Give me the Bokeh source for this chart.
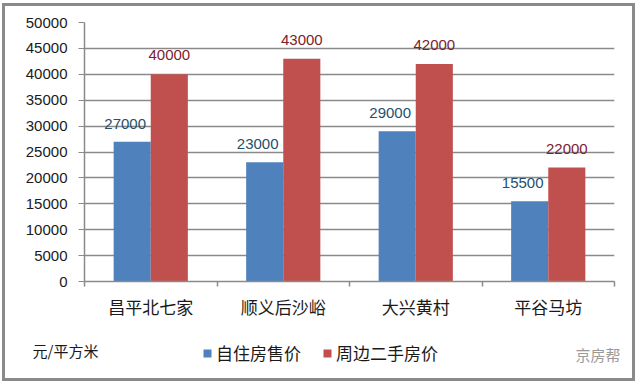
from bokeh.plotting import figure
from bokeh.layouts import column, row
from bokeh.models import (ColumnDataSource, FixedTicker, Legend, LegendItem, Label)
from bokeh.transform import dodge
from bokeh.core.properties import value
from bokeh.embed import file_html
from bokeh.resources import INLINE

# ---- data ----
categories = ["昌平北七家", "顺义后沙峪", "大兴黄村", "平谷马坊"]
self_prices = [27000, 23000, 29000, 15500]
nearby_prices = [40000, 43000, 42000, 22000]
series_names = ["自住房售价", "周边二手房价"]
y_ticks = [0, 5000, 10000, 15000, 20000, 25000, 30000, 35000, 40000, 45000, 50000]
unit_text = "元/平方米"
watermark = "京房帮"

BLUE = "#4F81BD"
RED = "#C0504D"
GRID = "#8a8a8a"
NUM_FONT = "Liberation Sans"
CJK_FONT = "Noto Sans CJK SC"

W = 627          # inner width (inside the grey border)
H_TOP = 324      # chart part
H_BOT = 48       # legend strip

centers = [i + 0.5 for i in range(len(categories))]
src = ColumnDataSource(dict(
    x=centers,
    a=self_prices,
    b=nearby_prices,
    a_txt=[str(v) for v in self_prices],
    b_txt=[str(v) for v in nearby_prices],
))

p = figure(width=W, height=H_TOP, x_range=(0, len(categories)), y_range=(0, 50000),
           output_backend="svg", toolbar_location=None,
           min_border_left=79, min_border_right=18, min_border_top=16, min_border_bottom=49)
p.outline_line_color = None
p.background_fill_color = "white"
p.border_fill_color = "white"

# y axis
p.yaxis.ticker = FixedTicker(ticks=y_ticks)
p.yaxis.major_tick_out = 6
p.yaxis.major_tick_in = 0
p.yaxis.minor_tick_line_color = None
p.yaxis.axis_line_color = GRID
p.yaxis.axis_line_width = 1.5
p.yaxis.major_tick_line_color = GRID
p.yaxis.major_label_text_font = NUM_FONT
p.yaxis.major_label_text_font_size = "15px"
p.yaxis.major_label_text_color = "#1a1a1a"
p.yaxis.major_label_standoff = 11

# x axis: labels at category centres, ticks at category boundaries
p.xaxis.ticker = FixedTicker(ticks=centers, minor_ticks=list(range(len(categories) + 1)))
p.xaxis.major_label_overrides = {c: name for c, name in zip(centers, categories)}
p.xaxis.major_tick_out = 0
p.xaxis.major_tick_in = 0
p.xaxis.minor_tick_out = 5
p.xaxis.minor_tick_in = 0
p.xaxis.minor_tick_line_color = GRID
p.xaxis.minor_tick_line_width = 1.5
p.xaxis.axis_line_color = GRID
p.xaxis.axis_line_width = 1.5
p.xaxis.major_label_text_font = CJK_FONT
p.xaxis.major_label_text_font_size = "17px"
p.xaxis.major_label_text_color = "#1a1a1a"
p.xaxis.major_label_standoff = 7

p.xgrid.grid_line_color = None
p.ygrid.ticker = FixedTicker(ticks=y_ticks)
p.ygrid.grid_line_color = GRID
p.ygrid.grid_line_width = 1.5

bw = 0.28
p.vbar(x=dodge("x", -bw / 2, range=p.x_range), top="a", width=bw, source=src,
       fill_color=BLUE, line_color=None)
p.vbar(x=dodge("x", bw / 2, range=p.x_range), top="b", width=bw, source=src,
       fill_color=RED, line_color=None)

p.text(x=dodge("x", -bw / 2, range=p.x_range), y="a", text="a_txt", source=src,
       text_align="center", text_baseline="middle", y_offset=-18, x_offset=-7,
       text_font=value(NUM_FONT), text_font_size="15px", text_color="#24506e")
p.text(x=dodge("x", bw / 2, range=p.x_range), y="b", text="b_txt", source=src,
       text_align="center", text_baseline="middle", y_offset=-19,
       text_font=value(NUM_FONT), text_font_size="15px", text_color="#7d1c2c")

# ---- legend strip ----
q = figure(width=W, height=H_BOT, x_range=(0, W), y_range=(0, H_BOT),
           output_backend="svg", toolbar_location=None, min_border=0)
q.axis.visible = False
q.grid.grid_line_color = None
q.outline_line_color = None
q.border_fill_color = "white"

# off-screen proxies so the legend can draw its swatches
proxy = ColumnDataSource(dict(x=[-1000], top=[0]))
l1 = q.vbar(x="x", top="top", width=1, source=proxy, fill_color=BLUE, line_color=None)
l2 = q.vbar(x="x", top="top", width=1, source=proxy, fill_color=RED, line_color=None)

legend = Legend(items=[LegendItem(label=series_names[0], renderers=[l1]),
                       LegendItem(label=series_names[1], renderers=[l2])],
                orientation="horizontal", location=(197, 13),
                padding=0, margin=0, spacing=21, glyph_width=10, glyph_height=10,
                label_standoff=4, label_text_font=CJK_FONT, label_text_font_size="17px",
                label_text_color="#1a1a1a", border_line_alpha=0, background_fill_alpha=0,
                label_height=20)
q.add_layout(legend)

q.add_layout(Label(x=27, y=28, text=unit_text,
                   text_font=CJK_FONT, text_font_size="15px", text_color="#1a1a1a",
                   text_baseline="middle"))
q.add_layout(Label(x=615, y=24, text=watermark,
                   text_font=CJK_FONT, text_font_size="15px", text_color="#9a9a9a",
                   text_baseline="middle", text_align="right"))

layout = column(row(p), row(q), spacing=0,
                styles={"border": "3px solid #8a8a8a", "margin-left": "2px",
                        "margin-top": "3px", "background-color": "white"})

open("out.html", "w").write(file_html(layout, INLINE))
